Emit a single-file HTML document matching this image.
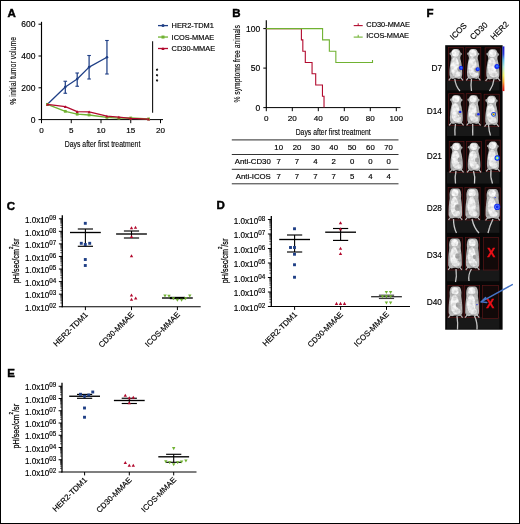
<!DOCTYPE html>
<html lang="en"><head><meta charset="utf-8"><title>Figure</title>
<style>html,body{margin:0;padding:0;background:#fff}body{width:520px;height:524px;overflow:hidden}svg{display:block}text{font-family:'Liberation Sans', sans-serif}</style>
</head><body>
<svg width="520" height="524" viewBox="0 0 520 524">
<defs><filter id="bl" x="-20%" y="-20%" width="140%" height="140%"><feGaussianBlur stdDeviation="0.7"/></filter><filter id="mf" x="-20%" y="-20%" width="140%" height="140%"><feGaussianBlur in="SourceGraphic" stdDeviation="0.65" result="b"/><feTurbulence type="fractalNoise" baseFrequency="0.3" numOctaves="2" seed="7" result="n"/><feColorMatrix in="n" type="matrix" values="0 0 0 0 0.0  0 0 0 0 0.0  0 0 0 0 0.0  0.7 0 0 0 -0.22" result="n2"/><feComposite in="n2" in2="b" operator="in" result="n3"/><feMerge><feMergeNode in="b"/><feMergeNode in="n3"/></feMerge></filter><filter id="bl2" x="-50%" y="-50%" width="200%" height="200%"><feGaussianBlur stdDeviation="0.45"/></filter><linearGradient id="cb" x1="0" y1="0" x2="0" y2="1"><stop offset="0" stop-color="#1818d0"/><stop offset="0.17" stop-color="#2a3ae0"/><stop offset="0.3" stop-color="#58b8ec"/><stop offset="0.45" stop-color="#a8e8d8"/><stop offset="0.55" stop-color="#d0f0a0"/><stop offset="0.65" stop-color="#f0f060"/><stop offset="0.78" stop-color="#f8b030"/><stop offset="0.9" stop-color="#f04818"/><stop offset="1" stop-color="#d81010"/></linearGradient><radialGradient id="mg" cx="0.5" cy="0.5" r="0.5"><stop offset="0" stop-color="#fff"/><stop offset="0.6" stop-color="#e8e8e8"/><stop offset="1" stop-color="#9a9a9a"/></radialGradient></defs>
<rect x="0" y="0" width="520" height="524" fill="#fff"/>
<rect x="0.5" y="0.5" width="519" height="523" fill="none" stroke="#000" stroke-width="1"/>
<g id="panelA">
<text x="7.6" y="17.2" font-size="11.5" font-weight="bold" fill="#000" stroke="#000" stroke-width="0.45">A</text>
<line x1="41.5" y1="21.8" x2="41.5" y2="120.1" stroke="#000" stroke-width="1.15" />
<line x1="41" y1="119.6" x2="163" y2="119.6" stroke="#000" stroke-width="1" />
<line x1="38.5" y1="119.6" x2="41.5" y2="119.6" stroke="#000" stroke-width="1" />
<text x="35.5" y="122.65" font-size="8.5" text-anchor="end" fill="#000" stroke="#000" stroke-width="0.16" >0</text>
<line x1="38.5" y1="87.8" x2="41.5" y2="87.8" stroke="#000" stroke-width="1" />
<text x="35.5" y="90.85" font-size="8.5" text-anchor="end" fill="#000" stroke="#000" stroke-width="0.16" >200</text>
<line x1="38.5" y1="56" x2="41.5" y2="56" stroke="#000" stroke-width="1" />
<text x="35.5" y="59.05" font-size="8.5" text-anchor="end" fill="#000" stroke="#000" stroke-width="0.16" >400</text>
<line x1="38.5" y1="24.2" x2="41.5" y2="24.2" stroke="#000" stroke-width="1" />
<text x="35.5" y="27.25" font-size="8.5" text-anchor="end" fill="#000" stroke="#000" stroke-width="0.16" >600</text>
<line x1="41.5" y1="119.6" x2="41.5" y2="123.2" stroke="#000" stroke-width="1" />
<text x="41.5" y="132.8" font-size="8.1" text-anchor="middle" fill="#000" stroke="#000" stroke-width="0.16" >0</text>
<line x1="71.25" y1="119.6" x2="71.25" y2="123.2" stroke="#000" stroke-width="1" />
<text x="71.25" y="132.8" font-size="8.1" text-anchor="middle" fill="#000" stroke="#000" stroke-width="0.16" >5</text>
<line x1="101" y1="119.6" x2="101" y2="123.2" stroke="#000" stroke-width="1" />
<text x="101" y="132.8" font-size="8.1" text-anchor="middle" fill="#000" stroke="#000" stroke-width="0.16" >10</text>
<line x1="130.75" y1="119.6" x2="130.75" y2="123.2" stroke="#000" stroke-width="1" />
<text x="130.75" y="132.8" font-size="8.1" text-anchor="middle" fill="#000" stroke="#000" stroke-width="0.16" >15</text>
<line x1="160.5" y1="119.6" x2="160.5" y2="123.2" stroke="#000" stroke-width="1" />
<text x="160.5" y="132.8" font-size="8.1" text-anchor="middle" fill="#000" stroke="#000" stroke-width="0.16" >20</text>
<text transform="translate(102.5 147.1) scale(0.721 1)" font-size="9.6" text-anchor="middle" fill="#000" stroke="#000" stroke-width="0.12">Days after first treatment</text>
<text transform="translate(15.8 70.85) rotate(-90) scale(0.723 1)" font-size="9.6" text-anchor="middle" fill="#000" stroke="#000" stroke-width="0.12">% initial tumor volume</text>
<polyline points="47.45,104.34 65.3,87 77.2,79.05 89.1,67.13 106.95,57.27" fill="none" stroke="#1f3f86" stroke-width="1.3" stroke-linejoin="round"/>
<circle cx="47.45" cy="104.34" r="1.3" fill="#1f3f86"/>
<circle cx="65.3" cy="87" r="1.3" fill="#1f3f86"/>
<line x1="65.3" y1="81.25" x2="65.3" y2="93.25" stroke="#1f3f86" stroke-width="1.25" />
<line x1="63.5" y1="81.25" x2="67.1" y2="81.25" stroke="#1f3f86" stroke-width="1.1" />
<line x1="63.5" y1="93.25" x2="67.1" y2="93.25" stroke="#1f3f86" stroke-width="1.1" />
<circle cx="77.2" cy="79.05" r="1.3" fill="#1f3f86"/>
<line x1="77.2" y1="73" x2="77.2" y2="86.25" stroke="#1f3f86" stroke-width="1.25" />
<line x1="75.4" y1="73" x2="79" y2="73" stroke="#1f3f86" stroke-width="1.1" />
<line x1="75.4" y1="86.25" x2="79" y2="86.25" stroke="#1f3f86" stroke-width="1.1" />
<circle cx="89.1" cy="67.13" r="1.3" fill="#1f3f86"/>
<line x1="89.1" y1="55.5" x2="89.1" y2="79" stroke="#1f3f86" stroke-width="1.25" />
<line x1="87.3" y1="55.5" x2="90.9" y2="55.5" stroke="#1f3f86" stroke-width="1.1" />
<line x1="87.3" y1="79" x2="90.9" y2="79" stroke="#1f3f86" stroke-width="1.1" />
<circle cx="106.95" cy="57.27" r="1.3" fill="#1f3f86"/>
<line x1="106.95" y1="40.5" x2="106.95" y2="74" stroke="#1f3f86" stroke-width="1.25" />
<line x1="105.15" y1="40.5" x2="108.75" y2="40.5" stroke="#1f3f86" stroke-width="1.1" />
<line x1="105.15" y1="74" x2="108.75" y2="74" stroke="#1f3f86" stroke-width="1.1" />
<polyline points="47.45,104.34 65.3,111.33 77.2,114.19 89.1,114.99 106.95,117.37 118.85,118.17 130.75,118.01 148.6,118.96" fill="none" stroke="#70b232" stroke-width="1.3" stroke-linejoin="round"/>
<rect x="46.05" y="102.94" width="2.8" height="2.8" fill="#70b232"/>
<rect x="63.9" y="109.93" width="2.8" height="2.8" fill="#70b232"/>
<rect x="75.8" y="112.79" width="2.8" height="2.8" fill="#70b232"/>
<rect x="87.7" y="113.59" width="2.8" height="2.8" fill="#70b232"/>
<rect x="105.55" y="115.97" width="2.8" height="2.8" fill="#70b232"/>
<rect x="117.45" y="116.77" width="2.8" height="2.8" fill="#70b232"/>
<rect x="129.35" y="116.61" width="2.8" height="2.8" fill="#70b232"/>
<rect x="147.2" y="117.56" width="2.8" height="2.8" fill="#70b232"/>
<polyline points="47.45,104.34 65.3,106.72 77.2,111.65 89.1,111.97 106.95,116.1 118.85,117.21 130.75,118.33 148.6,119.12" fill="none" stroke="#b20a2e" stroke-width="1.3" stroke-linejoin="round"/>
<path d="M45.95 105.69L48.95 105.69L47.45 102.99Z" fill="#b20a2e"/>
<path d="M63.8 108.07L66.8 108.07L65.3 105.37Z" fill="#b20a2e"/>
<path d="M75.7 113L78.7 113L77.2 110.3Z" fill="#b20a2e"/>
<path d="M87.6 113.32L90.6 113.32L89.1 110.62Z" fill="#b20a2e"/>
<path d="M105.45 117.45L108.45 117.45L106.95 114.75Z" fill="#b20a2e"/>
<path d="M117.35 118.56L120.35 118.56L118.85 115.86Z" fill="#b20a2e"/>
<path d="M129.25 119.68L132.25 119.68L130.75 116.98Z" fill="#b20a2e"/>
<path d="M147.1 120.47L150.1 120.47L148.6 117.77Z" fill="#b20a2e"/>
<line x1="158" y1="25.6" x2="168" y2="25.6" stroke="#1f3f86" stroke-width="1.3" />
<circle cx="163" cy="25.6" r="1.5" fill="#1f3f86"/>
<text x="171.6" y="28.2" font-size="7.4" text-anchor="start" fill="#000" stroke="#000" stroke-width="0.16" >HER2-TDM1</text>
<line x1="158" y1="37.05" x2="168" y2="37.05" stroke="#70b232" stroke-width="1.3" />
<rect x="161.5" y="35.55" width="3" height="3" fill="#70b232"/>
<text x="171.6" y="39.65" font-size="7.4" text-anchor="start" fill="#000" stroke="#000" stroke-width="0.16" >ICOS-MMAE</text>
<line x1="158" y1="48.5" x2="168" y2="48.5" stroke="#b20a2e" stroke-width="1.3" />
<path d="M161.4 49.94L164.6 49.94L163 47.06Z" fill="#b20a2e"/>
<text x="171.6" y="51.1" font-size="7.4" text-anchor="start" fill="#000" stroke="#000" stroke-width="0.16" >CD30-MMAE</text>
<line x1="152.6" y1="41.3" x2="152.6" y2="112.8" stroke="#111" stroke-width="1.1" />
<text transform="translate(153.75 68.5) rotate(90)" font-size="6" letter-spacing="3.1" fill="#000" stroke="#000" stroke-width="0.25">***</text>
</g>
<g id="panelB">
<text x="232.3" y="17.2" font-size="11.5" font-weight="bold" fill="#000" stroke="#000" stroke-width="0.45">B</text>
<line x1="266.3" y1="20.3" x2="266.3" y2="108.1" stroke="#000" stroke-width="1.15" />
<line x1="265.8" y1="107.6" x2="400.5" y2="107.6" stroke="#000" stroke-width="1" />
<line x1="263.3" y1="107.6" x2="266.3" y2="107.6" stroke="#000" stroke-width="1" />
<text x="260.2" y="110.6" font-size="8.5" text-anchor="end" fill="#000" stroke="#000" stroke-width="0.16" >0</text>
<line x1="263.3" y1="68.1" x2="266.3" y2="68.1" stroke="#000" stroke-width="1" />
<text x="260.2" y="71.1" font-size="8.5" text-anchor="end" fill="#000" stroke="#000" stroke-width="0.16" >50</text>
<line x1="263.3" y1="28.6" x2="266.3" y2="28.6" stroke="#000" stroke-width="1" />
<text x="260.2" y="31.6" font-size="8.5" text-anchor="end" fill="#000" stroke="#000" stroke-width="0.16" >100</text>
<line x1="266.3" y1="107.6" x2="266.3" y2="111.2" stroke="#000" stroke-width="1" />
<text x="266.3" y="121.1" font-size="8.1" text-anchor="middle" fill="#000" stroke="#000" stroke-width="0.16" >0</text>
<line x1="292.3" y1="107.6" x2="292.3" y2="111.2" stroke="#000" stroke-width="1" />
<text x="292.3" y="121.1" font-size="8.1" text-anchor="middle" fill="#000" stroke="#000" stroke-width="0.16" >20</text>
<line x1="318.3" y1="107.6" x2="318.3" y2="111.2" stroke="#000" stroke-width="1" />
<text x="318.3" y="121.1" font-size="8.1" text-anchor="middle" fill="#000" stroke="#000" stroke-width="0.16" >40</text>
<line x1="344.3" y1="107.6" x2="344.3" y2="111.2" stroke="#000" stroke-width="1" />
<text x="344.3" y="121.1" font-size="8.1" text-anchor="middle" fill="#000" stroke="#000" stroke-width="0.16" >60</text>
<line x1="370.3" y1="107.6" x2="370.3" y2="111.2" stroke="#000" stroke-width="1" />
<text x="370.3" y="121.1" font-size="8.1" text-anchor="middle" fill="#000" stroke="#000" stroke-width="0.16" >80</text>
<line x1="396.3" y1="107.6" x2="396.3" y2="111.2" stroke="#000" stroke-width="1" />
<text x="396.3" y="121.1" font-size="8.1" text-anchor="middle" fill="#000" stroke="#000" stroke-width="0.16" >100</text>
<text transform="translate(333.2 134.6) scale(0.716 1)" font-size="9.6" text-anchor="middle" fill="#000" stroke="#000" stroke-width="0.12">Days after first treatment</text>
<text transform="translate(239.9 63.8) rotate(-90) scale(0.721 1)" font-size="9.4" text-anchor="middle" fill="#000" stroke="#000" stroke-width="0.12">% symptoms free animals</text>
<path d="M266.3 28.6H301.4V39.9H302.83V51.19H305.3V62.49H312.06V73.71H315.7V85.01H322.46V96.3H324.02V107.6" fill="none" stroke="#b20a2e" stroke-width="1.1"/>
<path d="M266.3 28.6H322.59V39.9H329.35V51.19H335.85V62.49H372.51v-2.5" fill="none" stroke="#70b232" stroke-width="1.1"/>
<line x1="353.7" y1="25.6" x2="362.7" y2="25.6" stroke="#b20a2e" stroke-width="1.1" />
<line x1="358.2" y1="25.6" x2="358.2" y2="23.3" stroke="#b20a2e" stroke-width="1" />
<text x="366.3" y="26.9" font-size="7.4" text-anchor="start" fill="#000" stroke="#000" stroke-width="0.16" >CD30-MMAE</text>
<line x1="353.7" y1="37.1" x2="362.7" y2="37.1" stroke="#70b232" stroke-width="1.1" />
<line x1="358.2" y1="37.1" x2="358.2" y2="34.8" stroke="#70b232" stroke-width="1" />
<text x="366.3" y="38.4" font-size="7.4" text-anchor="start" fill="#000" stroke="#000" stroke-width="0.16" >ICOS-MMAE</text>
<line x1="231.8" y1="139.9" x2="398.5" y2="139.9" stroke="#555" stroke-width="1.3" />
<line x1="231.8" y1="154.5" x2="398.5" y2="154.5" stroke="#333" stroke-width="1" />
<line x1="231.8" y1="169.3" x2="398.5" y2="169.3" stroke="#333" stroke-width="1" />
<line x1="231.8" y1="183.8" x2="398.5" y2="183.8" stroke="#333" stroke-width="1" />
<text x="278.7" y="150.2" font-size="7.8" text-anchor="middle" fill="#000" stroke="#000" stroke-width="0.16" >10</text>
<text x="297" y="150.2" font-size="7.8" text-anchor="middle" fill="#000" stroke="#000" stroke-width="0.16" >20</text>
<text x="315.4" y="150.2" font-size="7.8" text-anchor="middle" fill="#000" stroke="#000" stroke-width="0.16" >30</text>
<text x="333.7" y="150.2" font-size="7.8" text-anchor="middle" fill="#000" stroke="#000" stroke-width="0.16" >40</text>
<text x="352.1" y="150.2" font-size="7.8" text-anchor="middle" fill="#000" stroke="#000" stroke-width="0.16" >50</text>
<text x="370.4" y="150.2" font-size="7.8" text-anchor="middle" fill="#000" stroke="#000" stroke-width="0.16" >60</text>
<text x="388.6" y="150.2" font-size="7.8" text-anchor="middle" fill="#000" stroke="#000" stroke-width="0.16" >70</text>
<text x="278.7" y="164" font-size="7.8" text-anchor="middle" fill="#000" stroke="#000" stroke-width="0.16" >7</text>
<text x="297" y="164" font-size="7.8" text-anchor="middle" fill="#000" stroke="#000" stroke-width="0.16" >7</text>
<text x="315.4" y="164" font-size="7.8" text-anchor="middle" fill="#000" stroke="#000" stroke-width="0.16" >4</text>
<text x="333.7" y="164" font-size="7.8" text-anchor="middle" fill="#000" stroke="#000" stroke-width="0.16" >2</text>
<text x="352.1" y="164" font-size="7.8" text-anchor="middle" fill="#000" stroke="#000" stroke-width="0.16" >0</text>
<text x="370.4" y="164" font-size="7.8" text-anchor="middle" fill="#000" stroke="#000" stroke-width="0.16" >0</text>
<text x="388.6" y="164" font-size="7.8" text-anchor="middle" fill="#000" stroke="#000" stroke-width="0.16" >0</text>
<text x="278.7" y="178.6" font-size="7.8" text-anchor="middle" fill="#000" stroke="#000" stroke-width="0.16" >7</text>
<text x="297" y="178.6" font-size="7.8" text-anchor="middle" fill="#000" stroke="#000" stroke-width="0.16" >7</text>
<text x="315.4" y="178.6" font-size="7.8" text-anchor="middle" fill="#000" stroke="#000" stroke-width="0.16" >7</text>
<text x="333.7" y="178.6" font-size="7.8" text-anchor="middle" fill="#000" stroke="#000" stroke-width="0.16" >7</text>
<text x="352.1" y="178.6" font-size="7.8" text-anchor="middle" fill="#000" stroke="#000" stroke-width="0.16" >5</text>
<text x="370.4" y="178.6" font-size="7.8" text-anchor="middle" fill="#000" stroke="#000" stroke-width="0.16" >4</text>
<text x="388.6" y="178.6" font-size="7.8" text-anchor="middle" fill="#000" stroke="#000" stroke-width="0.16" >4</text>
<text x="270.8" y="164" font-size="7.8" text-anchor="end" fill="#000" stroke="#000" stroke-width="0.16" >Anti-CD30</text>
<text x="270.8" y="178.6" font-size="7.8" text-anchor="end" fill="#000" stroke="#000" stroke-width="0.16" >Anti-ICOS</text>
</g>
<g id="panelC">
<text x="6.8" y="209.6" font-size="11.5" font-weight="bold" fill="#000" stroke="#000" stroke-width="0.45">C</text>
<line x1="62.3" y1="215.3" x2="62.3" y2="307.34" stroke="#000" stroke-width="1.3" />
<line x1="61.7" y1="306.74" x2="200.7" y2="306.74" stroke="#000" stroke-width="1.2" />
<line x1="58.9" y1="218.75" x2="62.3" y2="218.75" stroke="#000" stroke-width="1" />
<text x="56.3" y="222.95" font-size="8.15" text-anchor="end" fill="#000" stroke="#000" stroke-width="0.16">1.0x10<tspan font-size="6.3" dy="-3">09</tspan></text>
<line x1="58.9" y1="231.32" x2="62.3" y2="231.32" stroke="#000" stroke-width="1" />
<line x1="60.3" y1="227.54" x2="62.3" y2="227.54" stroke="#000" stroke-width="0.65" />
<line x1="60.3" y1="225.32" x2="62.3" y2="225.32" stroke="#000" stroke-width="0.65" />
<line x1="60.3" y1="223.75" x2="62.3" y2="223.75" stroke="#000" stroke-width="0.65" />
<line x1="60.3" y1="222.53" x2="62.3" y2="222.53" stroke="#000" stroke-width="0.65" />
<line x1="60.3" y1="221.54" x2="62.3" y2="221.54" stroke="#000" stroke-width="0.65" />
<line x1="60.3" y1="220.7" x2="62.3" y2="220.7" stroke="#000" stroke-width="0.65" />
<line x1="60.3" y1="219.97" x2="62.3" y2="219.97" stroke="#000" stroke-width="0.65" />
<line x1="60.3" y1="219.33" x2="62.3" y2="219.33" stroke="#000" stroke-width="0.65" />
<text x="56.3" y="235.52" font-size="8.15" text-anchor="end" fill="#000" stroke="#000" stroke-width="0.16">1.0x10<tspan font-size="6.3" dy="-3">08</tspan></text>
<line x1="58.9" y1="243.89" x2="62.3" y2="243.89" stroke="#000" stroke-width="1" />
<line x1="60.3" y1="240.11" x2="62.3" y2="240.11" stroke="#000" stroke-width="0.65" />
<line x1="60.3" y1="237.89" x2="62.3" y2="237.89" stroke="#000" stroke-width="0.65" />
<line x1="60.3" y1="236.32" x2="62.3" y2="236.32" stroke="#000" stroke-width="0.65" />
<line x1="60.3" y1="235.1" x2="62.3" y2="235.1" stroke="#000" stroke-width="0.65" />
<line x1="60.3" y1="234.11" x2="62.3" y2="234.11" stroke="#000" stroke-width="0.65" />
<line x1="60.3" y1="233.27" x2="62.3" y2="233.27" stroke="#000" stroke-width="0.65" />
<line x1="60.3" y1="232.54" x2="62.3" y2="232.54" stroke="#000" stroke-width="0.65" />
<line x1="60.3" y1="231.9" x2="62.3" y2="231.9" stroke="#000" stroke-width="0.65" />
<text x="56.3" y="248.09" font-size="8.15" text-anchor="end" fill="#000" stroke="#000" stroke-width="0.16">1.0x10<tspan font-size="6.3" dy="-3">07</tspan></text>
<line x1="58.9" y1="256.46" x2="62.3" y2="256.46" stroke="#000" stroke-width="1" />
<line x1="60.3" y1="252.68" x2="62.3" y2="252.68" stroke="#000" stroke-width="0.65" />
<line x1="60.3" y1="250.46" x2="62.3" y2="250.46" stroke="#000" stroke-width="0.65" />
<line x1="60.3" y1="248.89" x2="62.3" y2="248.89" stroke="#000" stroke-width="0.65" />
<line x1="60.3" y1="247.67" x2="62.3" y2="247.67" stroke="#000" stroke-width="0.65" />
<line x1="60.3" y1="246.68" x2="62.3" y2="246.68" stroke="#000" stroke-width="0.65" />
<line x1="60.3" y1="245.84" x2="62.3" y2="245.84" stroke="#000" stroke-width="0.65" />
<line x1="60.3" y1="245.11" x2="62.3" y2="245.11" stroke="#000" stroke-width="0.65" />
<line x1="60.3" y1="244.47" x2="62.3" y2="244.47" stroke="#000" stroke-width="0.65" />
<text x="56.3" y="260.66" font-size="8.15" text-anchor="end" fill="#000" stroke="#000" stroke-width="0.16">1.0x10<tspan font-size="6.3" dy="-3">06</tspan></text>
<line x1="58.9" y1="269.03" x2="62.3" y2="269.03" stroke="#000" stroke-width="1" />
<line x1="60.3" y1="265.25" x2="62.3" y2="265.25" stroke="#000" stroke-width="0.65" />
<line x1="60.3" y1="263.03" x2="62.3" y2="263.03" stroke="#000" stroke-width="0.65" />
<line x1="60.3" y1="261.46" x2="62.3" y2="261.46" stroke="#000" stroke-width="0.65" />
<line x1="60.3" y1="260.24" x2="62.3" y2="260.24" stroke="#000" stroke-width="0.65" />
<line x1="60.3" y1="259.25" x2="62.3" y2="259.25" stroke="#000" stroke-width="0.65" />
<line x1="60.3" y1="258.41" x2="62.3" y2="258.41" stroke="#000" stroke-width="0.65" />
<line x1="60.3" y1="257.68" x2="62.3" y2="257.68" stroke="#000" stroke-width="0.65" />
<line x1="60.3" y1="257.04" x2="62.3" y2="257.04" stroke="#000" stroke-width="0.65" />
<text x="56.3" y="273.23" font-size="8.15" text-anchor="end" fill="#000" stroke="#000" stroke-width="0.16">1.0x10<tspan font-size="6.3" dy="-3">05</tspan></text>
<line x1="58.9" y1="281.6" x2="62.3" y2="281.6" stroke="#000" stroke-width="1" />
<line x1="60.3" y1="277.82" x2="62.3" y2="277.82" stroke="#000" stroke-width="0.65" />
<line x1="60.3" y1="275.6" x2="62.3" y2="275.6" stroke="#000" stroke-width="0.65" />
<line x1="60.3" y1="274.03" x2="62.3" y2="274.03" stroke="#000" stroke-width="0.65" />
<line x1="60.3" y1="272.81" x2="62.3" y2="272.81" stroke="#000" stroke-width="0.65" />
<line x1="60.3" y1="271.82" x2="62.3" y2="271.82" stroke="#000" stroke-width="0.65" />
<line x1="60.3" y1="270.98" x2="62.3" y2="270.98" stroke="#000" stroke-width="0.65" />
<line x1="60.3" y1="270.25" x2="62.3" y2="270.25" stroke="#000" stroke-width="0.65" />
<line x1="60.3" y1="269.61" x2="62.3" y2="269.61" stroke="#000" stroke-width="0.65" />
<text x="56.3" y="285.8" font-size="8.15" text-anchor="end" fill="#000" stroke="#000" stroke-width="0.16">1.0x10<tspan font-size="6.3" dy="-3">04</tspan></text>
<line x1="58.9" y1="294.17" x2="62.3" y2="294.17" stroke="#000" stroke-width="1" />
<line x1="60.3" y1="290.39" x2="62.3" y2="290.39" stroke="#000" stroke-width="0.65" />
<line x1="60.3" y1="288.17" x2="62.3" y2="288.17" stroke="#000" stroke-width="0.65" />
<line x1="60.3" y1="286.6" x2="62.3" y2="286.6" stroke="#000" stroke-width="0.65" />
<line x1="60.3" y1="285.38" x2="62.3" y2="285.38" stroke="#000" stroke-width="0.65" />
<line x1="60.3" y1="284.39" x2="62.3" y2="284.39" stroke="#000" stroke-width="0.65" />
<line x1="60.3" y1="283.55" x2="62.3" y2="283.55" stroke="#000" stroke-width="0.65" />
<line x1="60.3" y1="282.82" x2="62.3" y2="282.82" stroke="#000" stroke-width="0.65" />
<line x1="60.3" y1="282.18" x2="62.3" y2="282.18" stroke="#000" stroke-width="0.65" />
<text x="56.3" y="298.37" font-size="8.15" text-anchor="end" fill="#000" stroke="#000" stroke-width="0.16">1.0x10<tspan font-size="6.3" dy="-3">03</tspan></text>
<line x1="58.9" y1="306.74" x2="62.3" y2="306.74" stroke="#000" stroke-width="1" />
<line x1="60.3" y1="302.96" x2="62.3" y2="302.96" stroke="#000" stroke-width="0.65" />
<line x1="60.3" y1="300.74" x2="62.3" y2="300.74" stroke="#000" stroke-width="0.65" />
<line x1="60.3" y1="299.17" x2="62.3" y2="299.17" stroke="#000" stroke-width="0.65" />
<line x1="60.3" y1="297.95" x2="62.3" y2="297.95" stroke="#000" stroke-width="0.65" />
<line x1="60.3" y1="296.96" x2="62.3" y2="296.96" stroke="#000" stroke-width="0.65" />
<line x1="60.3" y1="296.12" x2="62.3" y2="296.12" stroke="#000" stroke-width="0.65" />
<line x1="60.3" y1="295.39" x2="62.3" y2="295.39" stroke="#000" stroke-width="0.65" />
<line x1="60.3" y1="294.75" x2="62.3" y2="294.75" stroke="#000" stroke-width="0.65" />
<text x="56.3" y="310.94" font-size="8.15" text-anchor="end" fill="#000" stroke="#000" stroke-width="0.16">1.0x10<tspan font-size="6.3" dy="-3">02</tspan></text>
<text transform="translate(19.4 260.9) rotate(-90) scale(0.785 1)" font-size="9.2" text-anchor="middle" fill="#000" stroke="#000" stroke-width="0.25">pH/sec/cm<tspan font-size="5.6" dy="-6.1">2</tspan><tspan dy="6.1">/sr</tspan></text>
<line x1="85.4" y1="306.74" x2="85.4" y2="310.14" stroke="#000" stroke-width="1" />
<text transform="translate(88.4 315.14) rotate(-45)" font-size="7.9" text-anchor="end" fill="#000" stroke="#000" stroke-width="0.16">HER2-TDM1</text>
<line x1="131.5" y1="306.74" x2="131.5" y2="310.14" stroke="#000" stroke-width="1" />
<text transform="translate(134.5 315.14) rotate(-45)" font-size="7.9" text-anchor="end" fill="#000" stroke="#000" stroke-width="0.16">CD30-MMAE</text>
<line x1="177.4" y1="306.74" x2="177.4" y2="310.14" stroke="#000" stroke-width="1" />
<text transform="translate(180.4 315.14) rotate(-45)" font-size="7.9" text-anchor="end" fill="#000" stroke="#000" stroke-width="0.16">ICOS-MMAE</text>
<line x1="70" y1="232.5" x2="100.8" y2="232.5" stroke="#000" stroke-width="1.35" />
<line x1="77.8" y1="229" x2="93" y2="229" stroke="#000" stroke-width="1.15" />
<line x1="77.8" y1="246.3" x2="93" y2="246.3" stroke="#000" stroke-width="1.15" />
<line x1="85.4" y1="229" x2="85.4" y2="246.3" stroke="#000" stroke-width="1.1" />
<rect x="83.85" y="221.85" width="2.9" height="2.9" fill="#1f3f86"/>
<rect x="79.85" y="241.85" width="2.9" height="2.9" fill="#1f3f86"/>
<rect x="83.85" y="243.05" width="2.9" height="2.9" fill="#1f3f86"/>
<rect x="88.25" y="241.85" width="2.9" height="2.9" fill="#1f3f86"/>
<rect x="83.85" y="258.05" width="2.9" height="2.9" fill="#1f3f86"/>
<rect x="83.85" y="264.05" width="2.9" height="2.9" fill="#1f3f86"/>
<line x1="116.1" y1="234" x2="146.9" y2="234" stroke="#000" stroke-width="1.35" />
<line x1="123.9" y1="231" x2="139.1" y2="231" stroke="#000" stroke-width="1.15" />
<line x1="123.9" y1="238" x2="139.1" y2="238" stroke="#000" stroke-width="1.15" />
<line x1="131.5" y1="231" x2="131.5" y2="238" stroke="#000" stroke-width="1.1" />
<path d="M129.8 229.33L133.2 229.33L131.5 226.27Z" fill="#b20a2e"/>
<path d="M133.8 228.83L137.2 228.83L135.5 225.77Z" fill="#b20a2e"/>
<path d="M129.8 238.03L133.2 238.03L131.5 234.97Z" fill="#b20a2e"/>
<path d="M129.8 257.33L133.2 257.33L131.5 254.27Z" fill="#b20a2e"/>
<path d="M129.8 296.53L133.2 296.53L131.5 293.47Z" fill="#b20a2e"/>
<path d="M129.8 300.83L133.2 300.83L131.5 297.77Z" fill="#b20a2e"/>
<path d="M134 299.53L137.4 299.53L135.7 296.47Z" fill="#b20a2e"/>
<line x1="162" y1="298" x2="192.8" y2="298" stroke="#000" stroke-width="1.35" />
<line x1="169.8" y1="297.4" x2="185" y2="297.4" stroke="#000" stroke-width="1.15" />
<line x1="169.8" y1="298.6" x2="185" y2="298.6" stroke="#000" stroke-width="1.15" />
<line x1="177.4" y1="297.4" x2="177.4" y2="298.6" stroke="#000" stroke-width="1.1" />
<path d="M163.3 294.47L166.7 294.47L165 297.53Z" fill="#70b232"/>
<path d="M167.3 294.77L170.7 294.77L169 297.83Z" fill="#70b232"/>
<path d="M171.7 297.27L175.1 297.27L173.4 300.33Z" fill="#70b232"/>
<path d="M175.7 298.67L179.1 298.67L177.4 301.73Z" fill="#70b232"/>
<path d="M179.9 298.67L183.3 298.67L181.6 301.73Z" fill="#70b232"/>
<path d="M183.9 297.27L187.3 297.27L185.6 300.33Z" fill="#70b232"/>
<path d="M188.1 294.47L191.5 294.47L189.8 297.53Z" fill="#70b232"/>
</g>
<g id="panelD">
<text x="216.6" y="209.4" font-size="11.5" font-weight="bold" fill="#000" stroke="#000" stroke-width="0.45">D</text>
<line x1="271.3" y1="216" x2="271.3" y2="307.1" stroke="#000" stroke-width="1.3" />
<line x1="270.7" y1="306.5" x2="410" y2="306.5" stroke="#000" stroke-width="1.2" />
<line x1="267.9" y1="219.5" x2="271.3" y2="219.5" stroke="#000" stroke-width="1" />
<text x="265.2" y="223.7" font-size="8.15" text-anchor="end" fill="#000" stroke="#000" stroke-width="0.16">1.0x10<tspan font-size="6.3" dy="-3">08</tspan></text>
<line x1="267.9" y1="234" x2="271.3" y2="234" stroke="#000" stroke-width="1" />
<line x1="269.3" y1="229.64" x2="271.3" y2="229.64" stroke="#000" stroke-width="0.65" />
<line x1="269.3" y1="227.08" x2="271.3" y2="227.08" stroke="#000" stroke-width="0.65" />
<line x1="269.3" y1="225.27" x2="271.3" y2="225.27" stroke="#000" stroke-width="0.65" />
<line x1="269.3" y1="223.86" x2="271.3" y2="223.86" stroke="#000" stroke-width="0.65" />
<line x1="269.3" y1="222.72" x2="271.3" y2="222.72" stroke="#000" stroke-width="0.65" />
<line x1="269.3" y1="221.75" x2="271.3" y2="221.75" stroke="#000" stroke-width="0.65" />
<line x1="269.3" y1="220.91" x2="271.3" y2="220.91" stroke="#000" stroke-width="0.65" />
<line x1="269.3" y1="220.16" x2="271.3" y2="220.16" stroke="#000" stroke-width="0.65" />
<text x="265.2" y="238.2" font-size="8.15" text-anchor="end" fill="#000" stroke="#000" stroke-width="0.16">1.0x10<tspan font-size="6.3" dy="-3">07</tspan></text>
<line x1="267.9" y1="248.5" x2="271.3" y2="248.5" stroke="#000" stroke-width="1" />
<line x1="269.3" y1="244.14" x2="271.3" y2="244.14" stroke="#000" stroke-width="0.65" />
<line x1="269.3" y1="241.58" x2="271.3" y2="241.58" stroke="#000" stroke-width="0.65" />
<line x1="269.3" y1="239.77" x2="271.3" y2="239.77" stroke="#000" stroke-width="0.65" />
<line x1="269.3" y1="238.36" x2="271.3" y2="238.36" stroke="#000" stroke-width="0.65" />
<line x1="269.3" y1="237.22" x2="271.3" y2="237.22" stroke="#000" stroke-width="0.65" />
<line x1="269.3" y1="236.25" x2="271.3" y2="236.25" stroke="#000" stroke-width="0.65" />
<line x1="269.3" y1="235.41" x2="271.3" y2="235.41" stroke="#000" stroke-width="0.65" />
<line x1="269.3" y1="234.66" x2="271.3" y2="234.66" stroke="#000" stroke-width="0.65" />
<text x="265.2" y="252.7" font-size="8.15" text-anchor="end" fill="#000" stroke="#000" stroke-width="0.16">1.0x10<tspan font-size="6.3" dy="-3">06</tspan></text>
<line x1="267.9" y1="263" x2="271.3" y2="263" stroke="#000" stroke-width="1" />
<line x1="269.3" y1="258.64" x2="271.3" y2="258.64" stroke="#000" stroke-width="0.65" />
<line x1="269.3" y1="256.08" x2="271.3" y2="256.08" stroke="#000" stroke-width="0.65" />
<line x1="269.3" y1="254.27" x2="271.3" y2="254.27" stroke="#000" stroke-width="0.65" />
<line x1="269.3" y1="252.86" x2="271.3" y2="252.86" stroke="#000" stroke-width="0.65" />
<line x1="269.3" y1="251.72" x2="271.3" y2="251.72" stroke="#000" stroke-width="0.65" />
<line x1="269.3" y1="250.75" x2="271.3" y2="250.75" stroke="#000" stroke-width="0.65" />
<line x1="269.3" y1="249.91" x2="271.3" y2="249.91" stroke="#000" stroke-width="0.65" />
<line x1="269.3" y1="249.16" x2="271.3" y2="249.16" stroke="#000" stroke-width="0.65" />
<text x="265.2" y="267.2" font-size="8.15" text-anchor="end" fill="#000" stroke="#000" stroke-width="0.16">1.0x10<tspan font-size="6.3" dy="-3">05</tspan></text>
<line x1="267.9" y1="277.5" x2="271.3" y2="277.5" stroke="#000" stroke-width="1" />
<line x1="269.3" y1="273.14" x2="271.3" y2="273.14" stroke="#000" stroke-width="0.65" />
<line x1="269.3" y1="270.58" x2="271.3" y2="270.58" stroke="#000" stroke-width="0.65" />
<line x1="269.3" y1="268.77" x2="271.3" y2="268.77" stroke="#000" stroke-width="0.65" />
<line x1="269.3" y1="267.36" x2="271.3" y2="267.36" stroke="#000" stroke-width="0.65" />
<line x1="269.3" y1="266.22" x2="271.3" y2="266.22" stroke="#000" stroke-width="0.65" />
<line x1="269.3" y1="265.25" x2="271.3" y2="265.25" stroke="#000" stroke-width="0.65" />
<line x1="269.3" y1="264.41" x2="271.3" y2="264.41" stroke="#000" stroke-width="0.65" />
<line x1="269.3" y1="263.66" x2="271.3" y2="263.66" stroke="#000" stroke-width="0.65" />
<text x="265.2" y="281.7" font-size="8.15" text-anchor="end" fill="#000" stroke="#000" stroke-width="0.16">1.0x10<tspan font-size="6.3" dy="-3">04</tspan></text>
<line x1="267.9" y1="292" x2="271.3" y2="292" stroke="#000" stroke-width="1" />
<line x1="269.3" y1="287.64" x2="271.3" y2="287.64" stroke="#000" stroke-width="0.65" />
<line x1="269.3" y1="285.08" x2="271.3" y2="285.08" stroke="#000" stroke-width="0.65" />
<line x1="269.3" y1="283.27" x2="271.3" y2="283.27" stroke="#000" stroke-width="0.65" />
<line x1="269.3" y1="281.86" x2="271.3" y2="281.86" stroke="#000" stroke-width="0.65" />
<line x1="269.3" y1="280.72" x2="271.3" y2="280.72" stroke="#000" stroke-width="0.65" />
<line x1="269.3" y1="279.75" x2="271.3" y2="279.75" stroke="#000" stroke-width="0.65" />
<line x1="269.3" y1="278.91" x2="271.3" y2="278.91" stroke="#000" stroke-width="0.65" />
<line x1="269.3" y1="278.16" x2="271.3" y2="278.16" stroke="#000" stroke-width="0.65" />
<text x="265.2" y="296.2" font-size="8.15" text-anchor="end" fill="#000" stroke="#000" stroke-width="0.16">1.0x10<tspan font-size="6.3" dy="-3">03</tspan></text>
<line x1="267.9" y1="306.5" x2="271.3" y2="306.5" stroke="#000" stroke-width="1" />
<line x1="269.3" y1="302.14" x2="271.3" y2="302.14" stroke="#000" stroke-width="0.65" />
<line x1="269.3" y1="299.58" x2="271.3" y2="299.58" stroke="#000" stroke-width="0.65" />
<line x1="269.3" y1="297.77" x2="271.3" y2="297.77" stroke="#000" stroke-width="0.65" />
<line x1="269.3" y1="296.36" x2="271.3" y2="296.36" stroke="#000" stroke-width="0.65" />
<line x1="269.3" y1="295.22" x2="271.3" y2="295.22" stroke="#000" stroke-width="0.65" />
<line x1="269.3" y1="294.25" x2="271.3" y2="294.25" stroke="#000" stroke-width="0.65" />
<line x1="269.3" y1="293.41" x2="271.3" y2="293.41" stroke="#000" stroke-width="0.65" />
<line x1="269.3" y1="292.66" x2="271.3" y2="292.66" stroke="#000" stroke-width="0.65" />
<text x="265.2" y="310.7" font-size="8.15" text-anchor="end" fill="#000" stroke="#000" stroke-width="0.16">1.0x10<tspan font-size="6.3" dy="-3">02</tspan></text>
<text transform="translate(228.4 260.9) rotate(-90) scale(0.785 1)" font-size="9.2" text-anchor="middle" fill="#000" stroke="#000" stroke-width="0.25">pH/sec/cm<tspan font-size="5.6" dy="-6.1">2</tspan><tspan dy="6.1">/sr</tspan></text>
<line x1="294.6" y1="306.5" x2="294.6" y2="309.9" stroke="#000" stroke-width="1" />
<text transform="translate(297.6 314.9) rotate(-45)" font-size="7.9" text-anchor="end" fill="#000" stroke="#000" stroke-width="0.16">HER2-TDM1</text>
<line x1="340.6" y1="306.5" x2="340.6" y2="309.9" stroke="#000" stroke-width="1" />
<text transform="translate(343.6 314.9) rotate(-45)" font-size="7.9" text-anchor="end" fill="#000" stroke="#000" stroke-width="0.16">CD30-MMAE</text>
<line x1="386.5" y1="306.5" x2="386.5" y2="309.9" stroke="#000" stroke-width="1" />
<text transform="translate(389.5 314.9) rotate(-45)" font-size="7.9" text-anchor="end" fill="#000" stroke="#000" stroke-width="0.16">ICOS-MMAE</text>
<line x1="279.2" y1="239.5" x2="310" y2="239.5" stroke="#000" stroke-width="1.35" />
<line x1="287" y1="235" x2="302.2" y2="235" stroke="#000" stroke-width="1.15" />
<line x1="287" y1="252" x2="302.2" y2="252" stroke="#000" stroke-width="1.15" />
<line x1="294.6" y1="235" x2="294.6" y2="252" stroke="#000" stroke-width="1.1" />
<rect x="293.05" y="227.3" width="2.9" height="2.9" fill="#1f3f86"/>
<rect x="289.05" y="246.05" width="2.9" height="2.9" fill="#1f3f86"/>
<rect x="293.05" y="246.05" width="2.9" height="2.9" fill="#1f3f86"/>
<rect x="293.05" y="252.8" width="2.9" height="2.9" fill="#1f3f86"/>
<rect x="293.05" y="263.3" width="2.9" height="2.9" fill="#1f3f86"/>
<rect x="293.05" y="275.8" width="2.9" height="2.9" fill="#1f3f86"/>
<line x1="325.2" y1="232.2" x2="356" y2="232.2" stroke="#000" stroke-width="1.35" />
<line x1="333" y1="228.5" x2="348.2" y2="228.5" stroke="#000" stroke-width="1.15" />
<line x1="333" y1="240.4" x2="348.2" y2="240.4" stroke="#000" stroke-width="1.15" />
<line x1="340.6" y1="228.5" x2="340.6" y2="240.4" stroke="#000" stroke-width="1.1" />
<path d="M338.8 224.33L342.2 224.33L340.5 221.27Z" fill="#b20a2e"/>
<path d="M338.8 230.23L342.2 230.23L340.5 227.17Z" fill="#b20a2e"/>
<path d="M338.8 249.83L342.2 249.83L340.5 246.77Z" fill="#b20a2e"/>
<path d="M338.8 255.03L342.2 255.03L340.5 251.97Z" fill="#b20a2e"/>
<path d="M334.8 304.93L338.2 304.93L336.5 301.87Z" fill="#b20a2e"/>
<path d="M338.8 304.93L342.2 304.93L340.5 301.87Z" fill="#b20a2e"/>
<path d="M342.8 304.93L346.2 304.93L344.5 301.87Z" fill="#b20a2e"/>
<line x1="371.1" y1="296.7" x2="401.9" y2="296.7" stroke="#3a3a3a" stroke-width="1.35" />
<line x1="378.9" y1="295.2" x2="394.1" y2="295.2" stroke="#3a3a3a" stroke-width="1.15" />
<line x1="378.9" y1="298.5" x2="394.1" y2="298.5" stroke="#3a3a3a" stroke-width="1.15" />
<line x1="386.5" y1="295.2" x2="386.5" y2="298.5" stroke="#3a3a3a" stroke-width="1.1" />
<path d="M384.7 290.97L388.1 290.97L386.4 294.03Z" fill="#70b232"/>
<path d="M388.9 290.97L392.3 290.97L390.6 294.03Z" fill="#70b232"/>
<path d="M380.8 295.17L384.2 295.17L382.5 298.23Z" fill="#70b232"/>
<path d="M384.7 295.17L388.1 295.17L386.4 298.23Z" fill="#70b232"/>
<path d="M388.9 295.17L392.3 295.17L390.6 298.23Z" fill="#70b232"/>
<path d="M384.7 301.47L388.1 301.47L386.4 304.53Z" fill="#70b232"/>
<path d="M388.9 301.47L392.3 301.47L390.6 304.53Z" fill="#70b232"/>
</g>
<g id="panelE">
<text x="7.2" y="376.9" font-size="11.5" font-weight="bold" fill="#000" stroke="#000" stroke-width="0.45">E</text>
<line x1="62" y1="382.8" x2="62" y2="472.6" stroke="#000" stroke-width="1.3" />
<line x1="61.4" y1="472" x2="196.5" y2="472" stroke="#000" stroke-width="1.2" />
<line x1="58.6" y1="386.25" x2="62" y2="386.25" stroke="#000" stroke-width="1" />
<text x="56.3" y="390.45" font-size="8.15" text-anchor="end" fill="#000" stroke="#000" stroke-width="0.16">1.0x10<tspan font-size="6.3" dy="-3">09</tspan></text>
<line x1="58.6" y1="398.5" x2="62" y2="398.5" stroke="#000" stroke-width="1" />
<line x1="60" y1="394.81" x2="62" y2="394.81" stroke="#000" stroke-width="0.65" />
<line x1="60" y1="392.66" x2="62" y2="392.66" stroke="#000" stroke-width="0.65" />
<line x1="60" y1="391.12" x2="62" y2="391.12" stroke="#000" stroke-width="0.65" />
<line x1="60" y1="389.94" x2="62" y2="389.94" stroke="#000" stroke-width="0.65" />
<line x1="60" y1="388.97" x2="62" y2="388.97" stroke="#000" stroke-width="0.65" />
<line x1="60" y1="388.15" x2="62" y2="388.15" stroke="#000" stroke-width="0.65" />
<line x1="60" y1="387.44" x2="62" y2="387.44" stroke="#000" stroke-width="0.65" />
<line x1="60" y1="386.81" x2="62" y2="386.81" stroke="#000" stroke-width="0.65" />
<text x="56.3" y="402.7" font-size="8.15" text-anchor="end" fill="#000" stroke="#000" stroke-width="0.16">1.0x10<tspan font-size="6.3" dy="-3">08</tspan></text>
<line x1="58.6" y1="410.75" x2="62" y2="410.75" stroke="#000" stroke-width="1" />
<line x1="60" y1="407.06" x2="62" y2="407.06" stroke="#000" stroke-width="0.65" />
<line x1="60" y1="404.91" x2="62" y2="404.91" stroke="#000" stroke-width="0.65" />
<line x1="60" y1="403.37" x2="62" y2="403.37" stroke="#000" stroke-width="0.65" />
<line x1="60" y1="402.19" x2="62" y2="402.19" stroke="#000" stroke-width="0.65" />
<line x1="60" y1="401.22" x2="62" y2="401.22" stroke="#000" stroke-width="0.65" />
<line x1="60" y1="400.4" x2="62" y2="400.4" stroke="#000" stroke-width="0.65" />
<line x1="60" y1="399.69" x2="62" y2="399.69" stroke="#000" stroke-width="0.65" />
<line x1="60" y1="399.06" x2="62" y2="399.06" stroke="#000" stroke-width="0.65" />
<text x="56.3" y="414.95" font-size="8.15" text-anchor="end" fill="#000" stroke="#000" stroke-width="0.16">1.0x10<tspan font-size="6.3" dy="-3">07</tspan></text>
<line x1="58.6" y1="423" x2="62" y2="423" stroke="#000" stroke-width="1" />
<line x1="60" y1="419.31" x2="62" y2="419.31" stroke="#000" stroke-width="0.65" />
<line x1="60" y1="417.16" x2="62" y2="417.16" stroke="#000" stroke-width="0.65" />
<line x1="60" y1="415.62" x2="62" y2="415.62" stroke="#000" stroke-width="0.65" />
<line x1="60" y1="414.44" x2="62" y2="414.44" stroke="#000" stroke-width="0.65" />
<line x1="60" y1="413.47" x2="62" y2="413.47" stroke="#000" stroke-width="0.65" />
<line x1="60" y1="412.65" x2="62" y2="412.65" stroke="#000" stroke-width="0.65" />
<line x1="60" y1="411.94" x2="62" y2="411.94" stroke="#000" stroke-width="0.65" />
<line x1="60" y1="411.31" x2="62" y2="411.31" stroke="#000" stroke-width="0.65" />
<text x="56.3" y="427.2" font-size="8.15" text-anchor="end" fill="#000" stroke="#000" stroke-width="0.16">1.0x10<tspan font-size="6.3" dy="-3">06</tspan></text>
<line x1="58.6" y1="435.25" x2="62" y2="435.25" stroke="#000" stroke-width="1" />
<line x1="60" y1="431.56" x2="62" y2="431.56" stroke="#000" stroke-width="0.65" />
<line x1="60" y1="429.41" x2="62" y2="429.41" stroke="#000" stroke-width="0.65" />
<line x1="60" y1="427.87" x2="62" y2="427.87" stroke="#000" stroke-width="0.65" />
<line x1="60" y1="426.69" x2="62" y2="426.69" stroke="#000" stroke-width="0.65" />
<line x1="60" y1="425.72" x2="62" y2="425.72" stroke="#000" stroke-width="0.65" />
<line x1="60" y1="424.9" x2="62" y2="424.9" stroke="#000" stroke-width="0.65" />
<line x1="60" y1="424.19" x2="62" y2="424.19" stroke="#000" stroke-width="0.65" />
<line x1="60" y1="423.56" x2="62" y2="423.56" stroke="#000" stroke-width="0.65" />
<text x="56.3" y="439.45" font-size="8.15" text-anchor="end" fill="#000" stroke="#000" stroke-width="0.16">1.0x10<tspan font-size="6.3" dy="-3">05</tspan></text>
<line x1="58.6" y1="447.5" x2="62" y2="447.5" stroke="#000" stroke-width="1" />
<line x1="60" y1="443.81" x2="62" y2="443.81" stroke="#000" stroke-width="0.65" />
<line x1="60" y1="441.66" x2="62" y2="441.66" stroke="#000" stroke-width="0.65" />
<line x1="60" y1="440.12" x2="62" y2="440.12" stroke="#000" stroke-width="0.65" />
<line x1="60" y1="438.94" x2="62" y2="438.94" stroke="#000" stroke-width="0.65" />
<line x1="60" y1="437.97" x2="62" y2="437.97" stroke="#000" stroke-width="0.65" />
<line x1="60" y1="437.15" x2="62" y2="437.15" stroke="#000" stroke-width="0.65" />
<line x1="60" y1="436.44" x2="62" y2="436.44" stroke="#000" stroke-width="0.65" />
<line x1="60" y1="435.81" x2="62" y2="435.81" stroke="#000" stroke-width="0.65" />
<text x="56.3" y="451.7" font-size="8.15" text-anchor="end" fill="#000" stroke="#000" stroke-width="0.16">1.0x10<tspan font-size="6.3" dy="-3">04</tspan></text>
<line x1="58.6" y1="459.75" x2="62" y2="459.75" stroke="#000" stroke-width="1" />
<line x1="60" y1="456.06" x2="62" y2="456.06" stroke="#000" stroke-width="0.65" />
<line x1="60" y1="453.91" x2="62" y2="453.91" stroke="#000" stroke-width="0.65" />
<line x1="60" y1="452.37" x2="62" y2="452.37" stroke="#000" stroke-width="0.65" />
<line x1="60" y1="451.19" x2="62" y2="451.19" stroke="#000" stroke-width="0.65" />
<line x1="60" y1="450.22" x2="62" y2="450.22" stroke="#000" stroke-width="0.65" />
<line x1="60" y1="449.4" x2="62" y2="449.4" stroke="#000" stroke-width="0.65" />
<line x1="60" y1="448.69" x2="62" y2="448.69" stroke="#000" stroke-width="0.65" />
<line x1="60" y1="448.06" x2="62" y2="448.06" stroke="#000" stroke-width="0.65" />
<text x="56.3" y="463.95" font-size="8.15" text-anchor="end" fill="#000" stroke="#000" stroke-width="0.16">1.0x10<tspan font-size="6.3" dy="-3">03</tspan></text>
<line x1="58.6" y1="472" x2="62" y2="472" stroke="#000" stroke-width="1" />
<line x1="60" y1="468.31" x2="62" y2="468.31" stroke="#000" stroke-width="0.65" />
<line x1="60" y1="466.16" x2="62" y2="466.16" stroke="#000" stroke-width="0.65" />
<line x1="60" y1="464.62" x2="62" y2="464.62" stroke="#000" stroke-width="0.65" />
<line x1="60" y1="463.44" x2="62" y2="463.44" stroke="#000" stroke-width="0.65" />
<line x1="60" y1="462.47" x2="62" y2="462.47" stroke="#000" stroke-width="0.65" />
<line x1="60" y1="461.65" x2="62" y2="461.65" stroke="#000" stroke-width="0.65" />
<line x1="60" y1="460.94" x2="62" y2="460.94" stroke="#000" stroke-width="0.65" />
<line x1="60" y1="460.31" x2="62" y2="460.31" stroke="#000" stroke-width="0.65" />
<text x="56.3" y="476.2" font-size="8.15" text-anchor="end" fill="#000" stroke="#000" stroke-width="0.16">1.0x10<tspan font-size="6.3" dy="-3">02</tspan></text>
<text transform="translate(19.4 426.2) rotate(-90) scale(0.785 1)" font-size="9.2" text-anchor="middle" fill="#000" stroke="#000" stroke-width="0.25">pH/sec/cm<tspan font-size="5.6" dy="-6.1">2</tspan><tspan dy="6.1">/sr</tspan></text>
<line x1="84.6" y1="472" x2="84.6" y2="475.4" stroke="#000" stroke-width="1" />
<text transform="translate(87.6 480.4) rotate(-45)" font-size="7.9" text-anchor="end" fill="#000" stroke="#000" stroke-width="0.16">HER2-TDM1</text>
<line x1="129.3" y1="472" x2="129.3" y2="475.4" stroke="#000" stroke-width="1" />
<text transform="translate(132.3 480.4) rotate(-45)" font-size="7.9" text-anchor="end" fill="#000" stroke="#000" stroke-width="0.16">CD30-MMAE</text>
<line x1="173.7" y1="472" x2="173.7" y2="475.4" stroke="#000" stroke-width="1" />
<text transform="translate(176.7 480.4) rotate(-45)" font-size="7.9" text-anchor="end" fill="#000" stroke="#000" stroke-width="0.16">ICOS-MMAE</text>
<line x1="69.2" y1="396.25" x2="100" y2="396.25" stroke="#000" stroke-width="1.35" />
<line x1="77" y1="394.4" x2="92.2" y2="394.4" stroke="#000" stroke-width="1.15" />
<line x1="77" y1="398.3" x2="92.2" y2="398.3" stroke="#000" stroke-width="1.15" />
<line x1="84.6" y1="394.4" x2="84.6" y2="398.3" stroke="#000" stroke-width="1.1" />
<rect x="79.05" y="392.8" width="2.9" height="2.9" fill="#1f3f86"/>
<rect x="83.05" y="394.8" width="2.9" height="2.9" fill="#1f3f86"/>
<rect x="87.3" y="393.55" width="2.9" height="2.9" fill="#1f3f86"/>
<rect x="91.3" y="390.55" width="2.9" height="2.9" fill="#1f3f86"/>
<rect x="83.05" y="406.55" width="2.9" height="2.9" fill="#1f3f86"/>
<rect x="83.05" y="415.8" width="2.9" height="2.9" fill="#1f3f86"/>
<line x1="113.9" y1="400.5" x2="144.7" y2="400.5" stroke="#000" stroke-width="1.35" />
<line x1="121.7" y1="398.25" x2="136.9" y2="398.25" stroke="#000" stroke-width="1.15" />
<line x1="121.7" y1="403.5" x2="136.9" y2="403.5" stroke="#000" stroke-width="1.15" />
<line x1="129.3" y1="398.25" x2="129.3" y2="403.5" stroke="#000" stroke-width="1.1" />
<path d="M123.6 396.83L127 396.83L125.3 393.77Z" fill="#b20a2e"/>
<path d="M127.6 399.28L131 399.28L129.3 396.22Z" fill="#b20a2e"/>
<path d="M131.6 398.78L135 398.78L133.3 395.72Z" fill="#b20a2e"/>
<path d="M127.6 404.23L131 404.23L129.3 401.17Z" fill="#b20a2e"/>
<path d="M123.6 464.03L127 464.03L125.3 460.97Z" fill="#b20a2e"/>
<path d="M127.6 466.78L131 466.78L129.3 463.72Z" fill="#b20a2e"/>
<path d="M131.6 466.78L135 466.78L133.3 463.72Z" fill="#b20a2e"/>
<line x1="158.3" y1="456.8" x2="189.1" y2="456.8" stroke="#000" stroke-width="1.35" />
<line x1="166.1" y1="454.3" x2="181.3" y2="454.3" stroke="#000" stroke-width="1.15" />
<line x1="166.1" y1="462.3" x2="181.3" y2="462.3" stroke="#000" stroke-width="1.15" />
<line x1="173.7" y1="454.3" x2="173.7" y2="462.3" stroke="#000" stroke-width="1.1" />
<path d="M172 447.07L175.4 447.07L173.7 450.13Z" fill="#70b232"/>
<path d="M164.1 460.27L167.5 460.27L165.8 463.33Z" fill="#70b232"/>
<path d="M168 461.27L171.4 461.27L169.7 464.33Z" fill="#70b232"/>
<path d="M172 463.22L175.4 463.22L173.7 466.28Z" fill="#70b232"/>
<path d="M176 461.27L179.4 461.27L177.7 464.33Z" fill="#70b232"/>
<path d="M179.9 460.47L183.3 460.47L181.6 463.53Z" fill="#70b232"/>
<path d="M184.2 459.47L187.6 459.47L185.9 462.53Z" fill="#70b232"/>
</g>
<g id="panelF">
<text x="426.5" y="17.2" font-size="11.5" font-weight="bold" fill="#000" stroke="#000" stroke-width="0.45">F</text>
<text transform="translate(453.3 40.3) rotate(-45)" font-size="8.2" text-anchor="start" fill="#000" stroke="#000" stroke-width="0.16">ICOS</text>
<text transform="translate(473.3 40.3) rotate(-45)" font-size="8.2" text-anchor="start" fill="#000" stroke="#000" stroke-width="0.16">CD30</text>
<text transform="translate(493.8 40.3) rotate(-45)" font-size="8.2" text-anchor="start" fill="#000" stroke="#000" stroke-width="0.16">HER2</text>
<text x="442" y="71.1" font-size="8.3" text-anchor="end" fill="#000" stroke="#000" stroke-width="0.16" >D7</text>
<text x="442" y="114.4" font-size="8.3" text-anchor="end" fill="#000" stroke="#000" stroke-width="0.16" >D14</text>
<text x="442" y="159.1" font-size="8.3" text-anchor="end" fill="#000" stroke="#000" stroke-width="0.16" >D21</text>
<text x="442" y="210.7" font-size="8.3" text-anchor="end" fill="#000" stroke="#000" stroke-width="0.16" >D28</text>
<text x="442" y="257.9" font-size="8.3" text-anchor="end" fill="#000" stroke="#000" stroke-width="0.16" >D34</text>
<text x="442" y="304.9" font-size="8.3" text-anchor="end" fill="#000" stroke="#000" stroke-width="0.16" >D40</text>
<rect x="445.2" y="45.2" width="57.4" height="284.5" fill="#070707"/>
<rect x="502.5" y="46.4" width="1.9" height="44.7" fill="url(#cb)"/>
<rect x="447" y="80.5" width="52.4" height="9.9" fill="#181818"/>
<rect x="448.3" y="47.4" width="15.1" height="33.1" fill="#120909" stroke="#611719" stroke-width="0.65"/>
<rect x="465.8" y="47.4" width="15" height="33.1" fill="#120909" stroke="#611719" stroke-width="0.65"/>
<rect x="485.1" y="47.8" width="15.5" height="33.2" fill="#120909" stroke="#611719" stroke-width="0.65"/>
<g filter="url(#mf)">
<path d="M454.8 79 Q455.5 86 460 91" fill="none" stroke="#d4d4d4" stroke-width="1.25"/>
<path d="M451.32 77.19L448.75 80.4M460.38 77.19L462.95 80.4" stroke="#c8c8c8" stroke-width="1.1" fill="none"/>
<path d="M455.85 48.89C456.81 48.89 457.99 48.92 458.72 49.39C459.45 49.85 459.88 50.82 460.23 51.7C460.58 52.59 460.83 53.63 460.83 54.68C460.83 55.73 460.18 56.78 460.23 57.99C460.28 59.21 460.86 60.42 461.13 61.96C461.41 63.51 461.71 65.49 461.89 67.26C462.07 69.03 462.22 71.01 462.19 72.56C462.17 74.1 462.19 75.48 461.74 76.53C461.29 77.58 460.46 78.57 459.47 78.84C458.49 79.12 457.06 78.18 455.85 78.18C454.64 78.18 453.21 79.12 452.23 78.84C451.24 78.57 450.41 77.58 449.96 76.53C449.51 75.48 449.53 74.1 449.51 72.56C449.48 71.01 449.63 69.03 449.81 67.26C449.99 65.49 450.29 63.51 450.57 61.96C450.84 60.42 451.45 59.21 451.47 57.99C451.5 56.78 450.74 55.73 450.72 54.68C450.69 53.63 450.94 52.59 451.32 51.7C451.7 50.82 452.23 49.85 452.98 49.39C453.74 48.92 454.89 48.89 455.85 48.89Z" fill="#c0c0c0"/>
<circle cx="450.87" cy="53.69" r="1.28" fill="#b4b4b4"/>
<circle cx="460.68" cy="54.02" r="1.21" fill="#b4b4b4"/>
<ellipse cx="455.4" cy="53.03" rx="3.62" ry="3.64" fill="#fcfcfc"/>
<ellipse cx="454.94" cy="66.6" rx="4.08" ry="9.6" fill="#f8f8f8"/>
<ellipse cx="457.06" cy="73.88" rx="3.62" ry="2.98" fill="#f2f2f2"/>
<ellipse cx="459.5" cy="69" rx="2.2" ry="2.64" fill="#b0b0b0"/>
</g>
<g filter="url(#mf)">
<path d="M471.5 79 Q470.5 85 471.5 91" fill="none" stroke="#d4d4d4" stroke-width="1.25"/>
<path d="M468.8 77.19L466.25 80.4M477.8 77.19L480.35 80.4" stroke="#c8c8c8" stroke-width="1.1" fill="none"/>
<path d="M473.3 48.89C474.25 48.89 475.43 48.92 476.15 49.39C476.88 49.85 477.3 50.82 477.65 51.7C478 52.59 478.25 53.63 478.25 54.68C478.25 55.73 477.6 56.78 477.65 57.99C477.7 59.21 478.28 60.42 478.55 61.96C478.82 63.51 479.12 65.49 479.3 67.26C479.48 69.03 479.62 71.01 479.6 72.56C479.58 74.1 479.6 75.48 479.15 76.53C478.7 77.58 477.88 78.57 476.9 78.84C475.93 79.12 474.5 78.18 473.3 78.18C472.1 78.18 470.68 79.12 469.7 78.84C468.72 78.57 467.9 77.58 467.45 76.53C467 75.48 467.02 74.1 467 72.56C466.98 71.01 467.12 69.03 467.3 67.26C467.48 65.49 467.78 63.51 468.05 61.96C468.32 60.42 468.93 59.21 468.95 57.99C468.97 56.78 468.22 55.73 468.2 54.68C468.18 53.63 468.43 52.59 468.8 51.7C469.18 50.82 469.7 49.85 470.45 49.39C471.2 48.92 472.35 48.89 473.3 48.89Z" fill="#c0c0c0"/>
<circle cx="468.35" cy="53.69" r="1.28" fill="#b4b4b4"/>
<circle cx="478.1" cy="54.02" r="1.2" fill="#b4b4b4"/>
<ellipse cx="472.85" cy="53.03" rx="3.6" ry="3.64" fill="#fcfcfc"/>
<ellipse cx="472.4" cy="66.6" rx="4.05" ry="9.6" fill="#f8f8f8"/>
<ellipse cx="474.5" cy="73.88" rx="3.6" ry="2.98" fill="#f2f2f2"/>
<ellipse cx="476.5" cy="70" rx="2.2" ry="2.64" fill="#b0b0b0"/>
</g>
<g filter="url(#mf)">
<path d="M494 79 Q493.5 85 489.5 91" fill="none" stroke="#d4d4d4" stroke-width="1.25"/>
<path d="M488.2 77.68L485.56 80.9M497.5 77.68L500.14 80.9" stroke="#c8c8c8" stroke-width="1.1" fill="none"/>
<path d="M492.85 49.29C493.83 49.29 495.05 49.32 495.8 49.79C496.54 50.26 496.98 51.23 497.35 52.12C497.71 53 497.97 54.05 497.97 55.1C497.97 56.16 497.29 57.21 497.35 58.42C497.4 59.64 497.99 60.86 498.28 62.41C498.56 63.96 498.87 65.95 499.05 67.72C499.23 69.49 499.39 71.48 499.36 73.03C499.33 74.58 499.36 75.96 498.9 77.02C498.43 78.07 497.58 79.06 496.57 79.34C495.56 79.62 494.09 78.68 492.85 78.68C491.61 78.68 490.14 79.62 489.13 79.34C488.12 79.06 487.27 78.07 486.81 77.02C486.34 75.96 486.37 74.58 486.34 73.03C486.31 71.48 486.47 69.49 486.65 67.72C486.83 65.95 487.14 63.96 487.43 62.41C487.71 60.86 488.33 59.64 488.36 58.42C488.38 57.21 487.61 56.16 487.58 55.1C487.55 54.05 487.81 53 488.2 52.12C488.59 51.23 489.13 50.26 489.91 49.79C490.68 49.32 491.87 49.29 492.85 49.29Z" fill="#c0c0c0"/>
<circle cx="487.74" cy="54.11" r="1.32" fill="#b4b4b4"/>
<circle cx="497.81" cy="54.44" r="1.24" fill="#b4b4b4"/>
<ellipse cx="492.39" cy="53.44" rx="3.72" ry="3.65" fill="#fcfcfc"/>
<ellipse cx="491.92" cy="67.06" rx="4.19" ry="9.63" fill="#f8f8f8"/>
<ellipse cx="494.09" cy="74.36" rx="3.72" ry="2.99" fill="#f2f2f2"/>
</g>
<rect x="447" y="126.2" width="52.4" height="9.8" fill="#181818"/>
<rect x="448.7" y="93.7" width="15.3" height="31.7" fill="#120909" stroke="#611719" stroke-width="0.65"/>
<rect x="466.2" y="93.7" width="14.8" height="31.7" fill="#120909" stroke="#611719" stroke-width="0.65"/>
<rect x="484.1" y="94.2" width="15.1" height="32.5" fill="#120909" stroke="#611719" stroke-width="0.65"/>
<g filter="url(#mf)">
<path d="M455.5 124 Q454.5 130 455 135.5" fill="none" stroke="#d4d4d4" stroke-width="1.25"/>
<path d="M451.76 122.23L449.16 125.3M460.94 122.23L463.54 125.3" stroke="#c8c8c8" stroke-width="1.1" fill="none"/>
<path d="M456.35 95.13C457.32 95.13 458.52 95.15 459.26 95.6C460 96.05 460.43 96.98 460.79 97.82C461.14 98.67 461.4 99.67 461.4 100.67C461.4 101.68 460.74 102.68 460.79 103.84C460.84 105.01 461.42 106.17 461.71 107.65C461.99 109.13 462.29 111.03 462.47 112.72C462.65 114.41 462.8 116.31 462.78 117.79C462.75 119.27 462.78 120.59 462.32 121.6C461.86 122.6 461.02 123.55 460.02 123.81C459.03 124.08 457.57 123.18 456.35 123.18C455.13 123.18 453.67 124.08 452.68 123.81C451.68 123.55 450.84 122.6 450.38 121.6C449.92 120.59 449.95 119.27 449.92 117.79C449.9 116.31 450.05 114.41 450.23 112.72C450.41 111.03 450.71 109.13 451 107.65C451.28 106.17 451.89 105.01 451.91 103.84C451.94 102.68 451.17 101.68 451.15 100.67C451.12 99.67 451.38 98.67 451.76 97.82C452.14 96.98 452.68 96.05 453.44 95.6C454.21 95.15 455.38 95.13 456.35 95.13Z" fill="#c0c0c0"/>
<circle cx="451.3" cy="99.72" r="1.3" fill="#b4b4b4"/>
<circle cx="461.25" cy="100.04" r="1.22" fill="#b4b4b4"/>
<ellipse cx="455.89" cy="99.09" rx="3.67" ry="3.49" fill="#fcfcfc"/>
<ellipse cx="455.43" cy="112.09" rx="4.13" ry="9.19" fill="#f8f8f8"/>
<ellipse cx="457.57" cy="119.06" rx="3.67" ry="2.85" fill="#f2f2f2"/>
<ellipse cx="459.5" cy="113" rx="2" ry="2.4" fill="#b0b0b0"/>
</g>
<g filter="url(#mf)">
<path d="M472.7 124 L472.7 135.5" fill="none" stroke="#d4d4d4" stroke-width="1.25"/>
<path d="M469.16 122.23L466.64 125.3M478.04 122.23L480.56 125.3" stroke="#c8c8c8" stroke-width="1.1" fill="none"/>
<path d="M473.6 95.13C474.54 95.13 475.7 95.15 476.41 95.6C477.13 96.05 477.55 96.98 477.89 97.82C478.24 98.67 478.48 99.67 478.48 100.67C478.48 101.68 477.84 102.68 477.89 103.84C477.94 105.01 478.51 106.17 478.78 107.65C479.05 109.13 479.35 111.03 479.52 112.72C479.69 114.41 479.84 116.31 479.82 117.79C479.79 119.27 479.82 120.59 479.37 121.6C478.93 122.6 478.11 123.55 477.15 123.81C476.19 124.08 474.78 123.18 473.6 123.18C472.42 123.18 471.01 124.08 470.05 123.81C469.09 123.55 468.27 122.6 467.83 121.6C467.38 120.59 467.41 119.27 467.38 117.79C467.36 116.31 467.51 114.41 467.68 112.72C467.85 111.03 468.15 109.13 468.42 107.65C468.69 106.17 469.28 105.01 469.31 103.84C469.33 102.68 468.59 101.68 468.57 100.67C468.54 99.67 468.79 98.67 469.16 97.82C469.53 96.98 470.05 96.05 470.79 95.6C471.53 95.15 472.66 95.13 473.6 95.13Z" fill="#c0c0c0"/>
<circle cx="468.72" cy="99.72" r="1.26" fill="#b4b4b4"/>
<circle cx="478.34" cy="100.04" r="1.18" fill="#b4b4b4"/>
<ellipse cx="473.16" cy="99.09" rx="3.55" ry="3.49" fill="#fcfcfc"/>
<ellipse cx="472.71" cy="112.09" rx="4" ry="9.19" fill="#f8f8f8"/>
<ellipse cx="474.78" cy="119.06" rx="3.55" ry="2.85" fill="#f2f2f2"/>
<ellipse cx="477" cy="115" rx="2" ry="2.4" fill="#b0b0b0"/>
</g>
<g filter="url(#mf)">
<path d="M488.5 125 Q489 131 490.5 135.5" fill="none" stroke="#d4d4d4" stroke-width="1.25"/>
<path d="M487.12 123.45L484.55 126.6M496.18 123.45L498.75 126.6" stroke="#c8c8c8" stroke-width="1.1" fill="none"/>
<path d="M491.65 95.66C492.61 95.66 493.79 95.69 494.52 96.15C495.25 96.61 495.68 97.56 496.03 98.42C496.38 99.29 496.63 100.32 496.63 101.35C496.63 102.38 495.98 103.41 496.03 104.6C496.08 105.79 496.66 106.98 496.93 108.5C497.21 110.02 497.51 111.97 497.69 113.7C497.87 115.43 498.02 117.38 497.99 118.9C497.97 120.42 497.99 121.77 497.54 122.8C497.09 123.83 496.26 124.8 495.27 125.08C494.29 125.35 492.86 124.43 491.65 124.43C490.44 124.43 489.01 125.35 488.03 125.08C487.04 124.8 486.21 123.83 485.76 122.8C485.31 121.77 485.33 120.42 485.31 118.9C485.28 117.38 485.43 115.43 485.61 113.7C485.79 111.97 486.09 110.02 486.37 108.5C486.64 106.98 487.25 105.79 487.27 104.6C487.3 103.41 486.54 102.38 486.52 101.35C486.49 100.32 486.74 99.29 487.12 98.42C487.5 97.56 488.03 96.61 488.78 96.15C489.54 95.69 490.69 95.66 491.65 95.66Z" fill="#c0c0c0"/>
<circle cx="486.67" cy="100.38" r="1.28" fill="#b4b4b4"/>
<circle cx="496.48" cy="100.7" r="1.21" fill="#b4b4b4"/>
<ellipse cx="491.2" cy="99.73" rx="3.62" ry="3.58" fill="#fcfcfc"/>
<ellipse cx="490.74" cy="113.05" rx="4.08" ry="9.42" fill="#f8f8f8"/>
<ellipse cx="492.86" cy="120.2" rx="3.62" ry="2.92" fill="#f2f2f2"/>
</g>
<rect x="447" y="171.9" width="52.4" height="11.7" fill="#181818"/>
<rect x="449.2" y="141.4" width="14.8" height="31" fill="#120909" stroke="#611719" stroke-width="0.65"/>
<rect x="466.6" y="141.4" width="14.9" height="31" fill="#120909" stroke="#611719" stroke-width="0.65"/>
<rect x="485.8" y="140.1" width="14.4" height="31.4" fill="#120909" stroke="#611719" stroke-width="0.65"/>
<g filter="url(#mf)">
<path d="M456 171 Q454.5 177 455.5 183.5" fill="none" stroke="#d4d4d4" stroke-width="1.25"/>
<path d="M452.16 169.3L449.64 172.3M461.04 169.3L463.56 172.3" stroke="#c8c8c8" stroke-width="1.1" fill="none"/>
<path d="M456.6 142.8C457.54 142.8 458.7 142.82 459.41 143.26C460.13 143.7 460.55 144.6 460.89 145.43C461.24 146.26 461.48 147.24 461.48 148.22C461.48 149.2 460.84 150.18 460.89 151.32C460.94 152.46 461.51 153.59 461.78 155.04C462.05 156.49 462.35 158.35 462.52 160C462.69 161.65 462.84 163.51 462.82 164.96C462.79 166.41 462.82 167.7 462.37 168.68C461.93 169.66 461.11 170.59 460.15 170.85C459.19 171.11 457.78 170.23 456.6 170.23C455.42 170.23 454.01 171.11 453.05 170.85C452.09 170.59 451.27 169.66 450.83 168.68C450.38 167.7 450.41 166.41 450.38 164.96C450.36 163.51 450.51 161.65 450.68 160C450.85 158.35 451.15 156.49 451.42 155.04C451.69 153.59 452.28 152.46 452.31 151.32C452.33 150.18 451.59 149.2 451.57 148.22C451.54 147.24 451.79 146.26 452.16 145.43C452.53 144.6 453.05 143.7 453.79 143.26C454.53 142.82 455.66 142.8 456.6 142.8Z" fill="#c0c0c0"/>
<circle cx="451.72" cy="147.29" r="1.26" fill="#b4b4b4"/>
<circle cx="461.34" cy="147.6" r="1.18" fill="#b4b4b4"/>
<ellipse cx="456.16" cy="146.67" rx="3.55" ry="3.41" fill="#fcfcfc"/>
<ellipse cx="455.71" cy="159.38" rx="4" ry="8.99" fill="#f8f8f8"/>
<ellipse cx="457.78" cy="166.2" rx="3.55" ry="2.79" fill="#f2f2f2"/>
<ellipse cx="459.5" cy="160" rx="2" ry="2.4" fill="#b0b0b0"/>
</g>
<g filter="url(#mf)">
<path d="M473.5 171 Q475.5 177 474.5 183.5" fill="none" stroke="#d4d4d4" stroke-width="1.25"/>
<path d="M469.58 169.3L467.05 172.3M478.52 169.3L481.05 172.3" stroke="#c8c8c8" stroke-width="1.1" fill="none"/>
<path d="M474.05 142.8C474.99 142.8 476.16 142.82 476.88 143.26C477.6 143.7 478.02 144.6 478.37 145.43C478.72 146.26 478.97 147.24 478.97 148.22C478.97 149.2 478.32 150.18 478.37 151.32C478.42 152.46 478.99 153.59 479.26 155.04C479.54 156.49 479.84 158.35 480.01 160C480.18 161.65 480.33 163.51 480.31 164.96C480.28 166.41 480.31 167.7 479.86 168.68C479.41 169.66 478.59 170.59 477.63 170.85C476.66 171.11 475.24 170.23 474.05 170.23C472.86 170.23 471.44 171.11 470.47 170.85C469.51 170.59 468.69 169.66 468.24 168.68C467.79 167.7 467.82 166.41 467.79 164.96C467.77 163.51 467.92 161.65 468.09 160C468.26 158.35 468.56 156.49 468.84 155.04C469.11 153.59 469.7 152.46 469.73 151.32C469.75 150.18 469.01 149.2 468.98 148.22C468.96 147.24 469.21 146.26 469.58 145.43C469.95 144.6 470.47 143.7 471.22 143.26C471.96 142.82 473.11 142.8 474.05 142.8Z" fill="#c0c0c0"/>
<circle cx="469.13" cy="147.29" r="1.27" fill="#b4b4b4"/>
<circle cx="478.82" cy="147.6" r="1.19" fill="#b4b4b4"/>
<ellipse cx="473.6" cy="146.67" rx="3.58" ry="3.41" fill="#fcfcfc"/>
<ellipse cx="473.16" cy="159.38" rx="4.02" ry="8.99" fill="#f8f8f8"/>
<ellipse cx="475.24" cy="166.2" rx="3.58" ry="2.79" fill="#f2f2f2"/>
<ellipse cx="477" cy="160" rx="2" ry="2.4" fill="#b0b0b0"/>
</g>
<g filter="url(#mf)">
<path d="M491 170 Q490 177 492.5 183.5" fill="none" stroke="#d4d4d4" stroke-width="1.25"/>
<path d="M488.68 168.36L486.23 171.4M497.32 168.36L499.77 171.4" stroke="#c8c8c8" stroke-width="1.1" fill="none"/>
<path d="M493 141.51C493.91 141.51 495.04 141.54 495.74 141.98C496.43 142.43 496.84 143.34 497.18 144.18C497.51 145.02 497.75 146.01 497.75 147.01C497.75 148 497.13 149 497.18 150.15C497.22 151.3 497.78 152.45 498.04 153.92C498.3 155.38 498.59 157.27 498.76 158.94C498.93 160.61 499.07 162.5 499.05 163.96C499.02 165.43 499.05 166.74 498.62 167.73C498.18 168.73 497.39 169.67 496.46 169.93C495.52 170.19 494.15 169.3 493 169.3C491.85 169.3 490.48 170.19 489.54 169.93C488.61 169.67 487.82 168.73 487.38 167.73C486.95 166.74 486.98 165.43 486.95 163.96C486.93 162.5 487.07 160.61 487.24 158.94C487.41 157.27 487.7 155.38 487.96 153.92C488.22 152.45 488.8 151.3 488.82 150.15C488.85 149 488.13 148 488.1 147.01C488.08 146.01 488.32 145.02 488.68 144.18C489.04 143.34 489.54 142.43 490.26 141.98C490.98 141.54 492.09 141.51 493 141.51Z" fill="#c0c0c0"/>
<circle cx="488.25" cy="146.07" r="1.22" fill="#b4b4b4"/>
<circle cx="497.61" cy="146.38" r="1.15" fill="#b4b4b4"/>
<ellipse cx="492.57" cy="145.44" rx="3.46" ry="3.45" fill="#fcfcfc"/>
<ellipse cx="492.14" cy="158.31" rx="3.89" ry="9.11" fill="#f8f8f8"/>
<ellipse cx="494.15" cy="165.22" rx="3.46" ry="2.83" fill="#f2f2f2"/>
</g>
<rect x="447" y="219.9" width="52.4" height="13" fill="#181818"/>
<rect x="448.1" y="187.4" width="14.5" height="32.6" fill="#120909" stroke="#611719" stroke-width="0.65"/>
<rect x="464.9" y="187.4" width="15.2" height="32.6" fill="#120909" stroke="#611719" stroke-width="0.65"/>
<rect x="485.1" y="187.8" width="15.1" height="32.6" fill="#120909" stroke="#611719" stroke-width="0.65"/>
<g filter="url(#mf)">
<path d="M453.5 219 Q453.5 227 456.5 233" fill="none" stroke="#d4d4d4" stroke-width="1.25"/>
<path d="M451 216.74L448.54 219.9M459.7 216.74L462.17 219.9" stroke="#c8c8c8" stroke-width="1.1" fill="none"/>
<path d="M455.35 188.54C456.5 188.54 457.93 188.46 458.8 188.87C459.66 189.27 460.13 190.04 460.52 190.99C460.91 191.94 461.07 193.38 461.14 194.57C461.22 195.77 460.94 196.91 460.99 198.16C461.04 199.41 461.3 200.6 461.46 202.07C461.61 203.54 461.82 205.28 461.93 206.96C462.03 208.64 462.11 210.65 462.08 212.18C462.06 213.7 462.24 215.06 461.77 216.09C461.3 217.12 460.34 218.1 459.27 218.37C458.19 218.64 456.66 217.72 455.35 217.72C454.05 217.72 452.51 218.64 451.44 218.37C450.36 218.1 449.4 217.12 448.93 216.09C448.46 215.06 448.64 213.7 448.62 212.18C448.59 210.65 448.67 208.64 448.77 206.96C448.88 205.28 449.09 203.54 449.24 202.07C449.4 200.6 449.66 199.41 449.71 198.16C449.76 196.91 449.48 195.77 449.56 194.57C449.63 193.38 449.79 191.94 450.18 190.99C450.57 190.04 451.04 189.27 451.9 188.87C452.77 188.46 454.2 188.54 455.35 188.54Z" fill="#c0c0c0"/>
<ellipse cx="454.92" cy="192.94" rx="3.48" ry="3.59" fill="#fcfcfc"/>
<ellipse cx="454.48" cy="206.31" rx="3.92" ry="9.45" fill="#f8f8f8"/>
<ellipse cx="456.51" cy="213.48" rx="3.48" ry="2.93" fill="#f2f2f2"/>
<ellipse cx="457.5" cy="207.5" rx="2.8" ry="3.36" fill="#b0b0b0"/>
</g>
<g filter="url(#mf)">
<path d="M472 219 Q474 228 479 233" fill="none" stroke="#d4d4d4" stroke-width="1.25"/>
<path d="M467.94 216.74L465.36 219.9M477.06 216.74L479.64 219.9" stroke="#c8c8c8" stroke-width="1.1" fill="none"/>
<path d="M472.5 188.54C473.7 188.54 475.21 188.46 476.11 188.87C477.01 189.27 477.51 190.04 477.92 190.99C478.33 191.94 478.49 193.38 478.57 194.57C478.66 195.77 478.36 196.91 478.41 198.16C478.46 199.41 478.74 200.6 478.9 202.07C479.07 203.54 479.29 205.28 479.39 206.96C479.5 208.64 479.59 210.65 479.56 212.18C479.53 213.7 479.72 215.06 479.23 216.09C478.74 217.12 477.73 218.1 476.6 218.37C475.48 218.64 473.87 217.72 472.5 217.72C471.13 217.72 469.52 218.64 468.4 218.37C467.27 218.1 466.26 217.12 465.77 216.09C465.28 215.06 465.47 213.7 465.44 212.18C465.41 210.65 465.5 208.64 465.61 206.96C465.71 205.28 465.93 203.54 466.1 202.07C466.26 200.6 466.54 199.41 466.59 198.16C466.64 196.91 466.34 195.77 466.43 194.57C466.51 193.38 466.67 191.94 467.08 190.99C467.49 190.04 467.99 189.27 468.89 188.87C469.79 188.46 471.3 188.54 472.5 188.54Z" fill="#c0c0c0"/>
<ellipse cx="472.04" cy="192.94" rx="3.65" ry="3.59" fill="#fcfcfc"/>
<ellipse cx="471.59" cy="206.31" rx="4.1" ry="9.45" fill="#f8f8f8"/>
<ellipse cx="473.72" cy="213.48" rx="3.65" ry="2.93" fill="#f2f2f2"/>
</g>
<g filter="url(#mf)">
<path d="M493 219 Q489.5 226 488 233" fill="none" stroke="#d4d4d4" stroke-width="1.25"/>
<path d="M488.12 217.14L485.55 220.3M497.18 217.14L499.75 220.3" stroke="#c8c8c8" stroke-width="1.1" fill="none"/>
<path d="M492.65 188.94C493.85 188.94 495.34 188.86 496.24 189.27C497.13 189.67 497.62 190.44 498.03 191.39C498.44 192.34 498.6 193.78 498.68 194.97C498.77 196.17 498.47 197.31 498.52 198.56C498.58 199.81 498.85 201 499.01 202.47C499.17 203.94 499.39 205.68 499.5 207.36C499.61 209.04 499.69 211.05 499.66 212.58C499.64 214.1 499.83 215.46 499.34 216.49C498.85 217.52 497.84 218.5 496.73 218.77C495.61 219.04 494.01 218.12 492.65 218.12C491.29 218.12 489.69 219.04 488.57 218.77C487.46 218.5 486.45 217.52 485.96 216.49C485.47 215.46 485.66 214.1 485.64 212.58C485.61 211.05 485.69 209.04 485.8 207.36C485.91 205.68 486.13 203.94 486.29 202.47C486.45 201 486.72 199.81 486.78 198.56C486.83 197.31 486.53 196.17 486.62 194.97C486.7 193.78 486.86 192.34 487.27 191.39C487.68 190.44 488.17 189.67 489.06 189.27C489.96 188.86 491.45 188.94 492.65 188.94Z" fill="#c0c0c0"/>
<ellipse cx="492.2" cy="193.34" rx="3.62" ry="3.59" fill="#fcfcfc"/>
<ellipse cx="491.74" cy="206.71" rx="4.08" ry="9.45" fill="#f8f8f8"/>
<ellipse cx="493.86" cy="213.88" rx="3.62" ry="2.93" fill="#f2f2f2"/>
</g>
<rect x="447" y="269.5" width="52.4" height="11.8" fill="#181818"/>
<rect x="447.7" y="237.4" width="14.6" height="32.6" fill="#120909" stroke="#611719" stroke-width="0.65"/>
<rect x="465.4" y="237.4" width="14.3" height="32.6" fill="#120909" stroke="#611719" stroke-width="0.65"/>
<rect x="483.5" y="237.4" width="15" height="32.6" fill="#120909" stroke="#611719" stroke-width="0.65"/>
<g filter="url(#mf)">
<path d="M456 269 Q457 276 455.5 282" fill="none" stroke="#d4d4d4" stroke-width="1.25"/>
<path d="M450.62 266.74L448.14 269.9M459.38 266.74L461.86 269.9" stroke="#c8c8c8" stroke-width="1.1" fill="none"/>
<path d="M455 238.54C456.16 238.54 457.6 238.46 458.47 238.87C459.34 239.27 459.81 240.04 460.2 240.99C460.6 241.94 460.76 243.38 460.83 244.57C460.91 245.77 460.62 246.91 460.68 248.16C460.73 249.41 460.99 250.6 461.15 252.07C461.31 253.54 461.52 255.28 461.62 256.96C461.73 258.64 461.81 260.65 461.78 262.18C461.75 263.7 461.94 265.06 461.46 266.09C460.99 267.12 460.02 268.1 458.94 268.37C457.86 268.64 456.31 267.72 455 267.72C453.69 267.72 452.14 268.64 451.06 268.37C449.98 268.1 449.01 267.12 448.54 266.09C448.06 265.06 448.25 263.7 448.22 262.18C448.19 260.65 448.27 258.64 448.38 256.96C448.48 255.28 448.69 253.54 448.85 252.07C449.01 250.6 449.27 249.41 449.32 248.16C449.38 246.91 449.09 245.77 449.17 244.57C449.24 243.38 449.4 241.94 449.8 240.99C450.19 240.04 450.66 239.27 451.53 238.87C452.4 238.46 453.84 238.54 455 238.54Z" fill="#c0c0c0"/>
<ellipse cx="454.56" cy="242.94" rx="3.5" ry="3.59" fill="#fcfcfc"/>
<ellipse cx="454.12" cy="256.31" rx="3.94" ry="9.45" fill="#f8f8f8"/>
<ellipse cx="456.17" cy="263.48" rx="3.5" ry="2.93" fill="#f2f2f2"/>
<ellipse cx="457.5" cy="256" rx="2.3" ry="2.76" fill="#b0b0b0"/>
</g>
<g filter="url(#mf)">
<path d="M471.5 269 Q468 274 469 281" fill="none" stroke="#d4d4d4" stroke-width="1.25"/>
<path d="M468.26 266.74L465.83 269.9M476.84 266.74L479.27 269.9" stroke="#c8c8c8" stroke-width="1.1" fill="none"/>
<path d="M472.55 238.54C473.68 238.54 475.1 238.46 475.95 238.87C476.8 239.27 477.26 240.04 477.65 240.99C478.03 241.94 478.19 243.38 478.26 244.57C478.34 245.77 478.06 246.91 478.11 248.16C478.16 249.41 478.42 250.6 478.57 252.07C478.73 253.54 478.93 255.28 479.04 256.96C479.14 258.64 479.22 260.65 479.19 262.18C479.17 263.7 479.35 265.06 478.88 266.09C478.42 267.12 477.47 268.1 476.41 268.37C475.36 268.64 473.84 267.72 472.55 267.72C471.26 267.72 469.74 268.64 468.69 268.37C467.63 268.1 466.68 267.12 466.22 266.09C465.75 265.06 465.93 263.7 465.91 262.18C465.88 260.65 465.96 258.64 466.06 256.96C466.17 255.28 466.37 253.54 466.53 252.07C466.68 250.6 466.94 249.41 466.99 248.16C467.04 246.91 466.76 245.77 466.84 244.57C466.91 243.38 467.07 241.94 467.45 240.99C467.84 240.04 468.3 239.27 469.15 238.87C470 238.46 471.42 238.54 472.55 238.54Z" fill="#c0c0c0"/>
<ellipse cx="472.12" cy="242.94" rx="3.43" ry="3.59" fill="#fcfcfc"/>
<ellipse cx="471.69" cy="256.31" rx="3.86" ry="9.45" fill="#f8f8f8"/>
<ellipse cx="473.69" cy="263.48" rx="3.43" ry="2.93" fill="#f2f2f2"/>
<ellipse cx="474.5" cy="257" rx="1.8" ry="2.16" fill="#b0b0b0"/>
</g>
<rect x="447" y="317.2" width="52.4" height="11.6" fill="#181818"/>
<rect x="448" y="285.4" width="15" height="32.3" fill="#120909" stroke="#611719" stroke-width="0.65"/>
<rect x="464.6" y="285.4" width="15.1" height="32.3" fill="#120909" stroke="#611719" stroke-width="0.65"/>
<rect x="482.3" y="285.4" width="16.2" height="33.1" fill="#120909" stroke="#611719" stroke-width="0.65"/>
<g filter="url(#mf)">
<path d="M457 316 Q458 323 457.5 329.5" fill="none" stroke="#d4d4d4" stroke-width="1.25"/>
<path d="M451 314.47L448.45 317.6M460 314.47L462.55 317.6" stroke="#c8c8c8" stroke-width="1.1" fill="none"/>
<path d="M455.5 286.53C456.67 286.53 458.12 286.45 459 286.85C459.87 287.26 460.35 288.01 460.75 288.95C461.14 289.9 461.3 291.32 461.38 292.51C461.46 293.69 461.17 294.82 461.22 296.06C461.28 297.3 461.54 298.48 461.7 299.94C461.86 301.39 462.07 303.11 462.18 304.78C462.28 306.45 462.36 308.44 462.34 309.95C462.31 311.46 462.5 312.8 462.02 313.82C461.54 314.85 460.56 315.82 459.48 316.08C458.39 316.35 456.82 315.44 455.5 315.44C454.18 315.44 452.61 316.35 451.52 316.08C450.44 315.82 449.46 314.85 448.98 313.82C448.5 312.8 448.69 311.46 448.66 309.95C448.64 308.44 448.72 306.45 448.82 304.78C448.93 303.11 449.14 301.39 449.3 299.94C449.46 298.48 449.72 297.3 449.78 296.06C449.83 294.82 449.54 293.69 449.62 292.51C449.7 291.32 449.86 289.9 450.25 288.95C450.65 288.01 451.13 287.26 452 286.85C452.88 286.45 454.33 286.53 455.5 286.53Z" fill="#c0c0c0"/>
<ellipse cx="455.05" cy="290.89" rx="3.6" ry="3.55" fill="#fcfcfc"/>
<ellipse cx="454.6" cy="304.13" rx="4.05" ry="9.37" fill="#f8f8f8"/>
<ellipse cx="456.7" cy="311.24" rx="3.6" ry="2.91" fill="#f2f2f2"/>
<ellipse cx="458" cy="305" rx="2.2" ry="2.64" fill="#b0b0b0"/>
</g>
<g filter="url(#mf)">
<path d="M474.5 316 Q477.5 322 477 329.5" fill="none" stroke="#d4d4d4" stroke-width="1.25"/>
<path d="M467.62 314.47L465.05 317.6M476.68 314.47L479.25 317.6" stroke="#c8c8c8" stroke-width="1.1" fill="none"/>
<path d="M472.15 286.53C473.32 286.53 474.79 286.45 475.67 286.85C476.55 287.26 477.03 288.01 477.43 288.95C477.83 289.9 477.99 291.32 478.07 292.51C478.15 293.69 477.86 294.82 477.91 296.06C477.97 297.3 478.23 298.48 478.39 299.94C478.55 301.39 478.77 303.11 478.87 304.78C478.98 306.45 479.06 308.44 479.03 309.95C479.01 311.46 479.19 312.8 478.71 313.82C478.23 314.85 477.25 315.82 476.15 316.08C475.06 316.35 473.48 315.44 472.15 315.44C470.82 315.44 469.24 316.35 468.15 316.08C467.05 315.82 466.07 314.85 465.59 313.82C465.11 312.8 465.29 311.46 465.27 309.95C465.24 308.44 465.32 306.45 465.43 304.78C465.53 303.11 465.75 301.39 465.91 299.94C466.07 298.48 466.33 297.3 466.39 296.06C466.44 294.82 466.15 293.69 466.23 292.51C466.31 291.32 466.47 289.9 466.87 288.95C467.27 288.01 467.75 287.26 468.63 286.85C469.51 286.45 470.98 286.53 472.15 286.53Z" fill="#c0c0c0"/>
<ellipse cx="471.7" cy="290.89" rx="3.62" ry="3.55" fill="#fcfcfc"/>
<ellipse cx="471.24" cy="304.13" rx="4.08" ry="9.37" fill="#f8f8f8"/>
<ellipse cx="473.36" cy="311.24" rx="3.62" ry="2.91" fill="#f2f2f2"/>
</g>
<g filter="url(#bl2)">
<circle cx="461" cy="67.9" r="2.1" fill="#1426ee"/>
<circle cx="461.2" cy="67.7" r="1.05" fill="#2f74ff"/>
</g>
<g filter="url(#bl2)">
<circle cx="477.7" cy="69.3" r="2" fill="#1426ee"/>
<circle cx="477.9" cy="69.1" r="1" fill="#2f74ff"/>
</g>
<g filter="url(#bl2)">
<circle cx="496.9" cy="66.5" r="2.5" fill="#1426ee"/>
<circle cx="497.1" cy="66.3" r="1.25" fill="#2f74ff"/>
</g>
<g filter="url(#bl2)">
<circle cx="460.2" cy="111.9" r="1.2" fill="#1426ee"/>
</g>
<g filter="url(#bl2)">
<circle cx="478.4" cy="114.3" r="1.3" fill="#1426ee"/>
</g>
<g filter="url(#bl2)">
<circle cx="493.6" cy="114.3" r="2.4" fill="#1426ee"/>
<circle cx="493.6" cy="114.3" r="1.63" fill="#7fe0a0"/>
<circle cx="493.6" cy="114.3" r="1.08" fill="#f0d030"/>
<circle cx="493.6" cy="114.3" r="0.6" fill="#e02010"/>
</g>
<g filter="url(#bl2)">
<circle cx="497.2" cy="158" r="2.7" fill="#1426ee"/>
<circle cx="497.2" cy="158" r="1.67" fill="#40e0e0"/>
<circle cx="497.2" cy="158" r="1.03" fill="#d8f060"/>
</g>
<g filter="url(#bl2)">
<circle cx="497.2" cy="206.9" r="3.1" fill="#1426ee"/>
<circle cx="497.2" cy="206.9" r="1.86" fill="none" stroke="#6aa0ff" stroke-width="0.7"/>
</g>
<g filter="url(#bl2)">
<circle cx="495.2" cy="197.5" r="0.6" fill="#1426ee"/>
</g>
<g filter="url(#bl2)">
<circle cx="477" cy="304.6" r="0.7" fill="#1426ee"/>
</g>
<text x="491.1" y="256.5" font-size="11.9" font-weight="bold" text-anchor="middle" fill="#ee1018" stroke="#ee1018" stroke-width="0.4">X</text>
<text x="490.1" y="307.6" font-size="11.9" font-weight="bold" text-anchor="middle" fill="#ee1018" stroke="#ee1018" stroke-width="0.4">X</text>
<path d="M512.3 284.6L481 301.9M485.6 297.4L481 301.9L486.8 302.5" fill="none" stroke="#4674c6" stroke-width="1.45" stroke-linecap="round" stroke-linejoin="round"/>
</g>
</svg>
</body></html>
